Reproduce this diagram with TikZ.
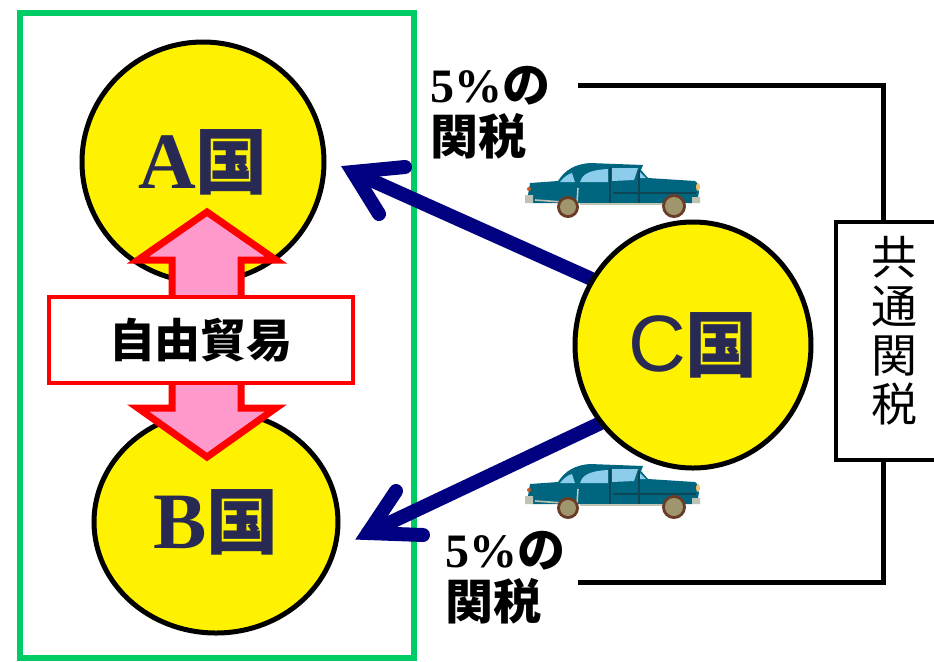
\documentclass[tikz,border=0pt]{standalone}
\usepackage{fontspec}
\setmainfont{Liberation Serif}
\newfontfamily\jpfont{Noto Sans CJK JP}
\newfontfamily\latinsans{Liberation Sans}
\usetikzlibrary{shapes.geometric,backgrounds}

\definecolor{framegreen}{RGB}{0,204,102}
\definecolor{countryink}{RGB}{40,42,84}
\definecolor{tariffnavy}{RGB}{0,0,128}
\definecolor{tradepink}{RGB}{255,153,204}
\definecolor{carbody}{RGB}{0,102,128}
\definecolor{carglass}{RGB}{140,205,235}
\definecolor{cartrim}{RGB}{15,70,85}
\definecolor{carchrome}{RGB}{190,195,180}
\definecolor{tyre}{RGB}{105,60,40}
\definecolor{hubcap}{RGB}{160,150,110}
\definecolor{taillamp}{RGB}{200,90,40}
\definecolor{headlamp}{RGB}{245,190,110}

\tikzset{
  country/.style={ellipse, draw=black, line width=2.5pt, fill=yellow, inner sep=0pt,
    text=countryink, font=\bfseries},
  tariff/.style={draw=tariffnavy, line width=7pt, line cap=round, line join=miter},
  taxnote/.style={align=left, inner sep=0pt, anchor=north west,
    font=\fontsize{24}{26}\selectfont\bfseries},
  tradebox/.style={draw=red, line width=2pt, fill=white, minimum width=152pt,
    minimum height=43pt, font=\jpfont\fontsize{23}{26}\selectfont\bfseries},
  bracket/.style={line width=2.5pt},
  % old saloon car, drawn from its top left corner
  pics/oldcar/.style={code={
    \fill[carbody] (20,33) -- (48,31) .. controls (55,20) and (65,14) .. (80,13) -- (133,15)
      -- (131,20) -- (138,28) -- (185,31) .. controls (189,33) and (190,40) .. (188,47)
      -- (182,53) -- (22,53) -- (18,45) -- cycle;
    \fill[carglass] (50,32) .. controls (54,27) and (58,24) .. (62,23) -- (65,32) -- cycle;
    \fill[carglass] (70,32) .. controls (72,25) and (78,20) .. (98,19) -- (98,32) -- cycle;
    \fill[carglass] (102,18) -- (128,18) -- (124,30) -- (102,31) -- cycle;
    \fill[carglass] (130,22) -- (136,28) -- (129,28) -- cycle;
    \draw[cartrim, line width=0.8pt] (100,17) -- (100,53) (129,20) -- (129,53) (103,43) -- (186,43);
    \draw[carchrome, line width=0.8pt] (25,50) -- (67,53) -- (68,38) (70,54) -- (155,54);
    \fill[carchrome] (15,45) rectangle (23,53) (182,47) rectangle (190,53);
    \fill[taillamp] (19,39) circle (2);
    \fill[headlamp] (188,37) ellipse (2 and 4);
    \fill[tyre] (58,57) circle (11);
    \fill[hubcap] (58,57) circle (8);
    \fill[tyre] (164,56) circle (12);
    \fill[hubcap] (164,56) circle (9);
  }}
}

\begin{document}
\begin{tikzpicture}[x=0.5pt, y=-0.5pt]
\useasboundingbox (0,0) rectangle (934,661);

% countries
\node[country, minimum width=121pt, minimum height=120pt] (A) at (203,162)
  {\fontsize{40}{44}\selectfont A{\jpfont\fontsize{36}{40}\selectfont 国}};
\node[country, minimum width=122pt, minimum height=111pt] (B) at (216,522)
  {\fontsize{40}{44}\selectfont B{\jpfont\fontsize{36}{40}\selectfont 国}};
\node[country, minimum width=118pt, minimum height=123pt] (C) at (693,345)
  {{\latinsans\mdseries\fontsize{40}{44}\selectfont C}{\jpfont\fontsize{36}{40}\selectfont 国}};

% tips of the tariff arrows
\coordinate (tipA) at (353,172);
\coordinate (armA1) at (405,167);
\coordinate (armA2) at (379,214);
\coordinate (tipB) at (368,533);
\coordinate (armB1) at (396,491);
\coordinate (armB2) at (423,535);

\begin{scope}[on background layer]
  \fill[white] (0,0) rectangle (934,661);
  \draw[framegreen, line width=3pt] (20,13) rectangle (414,658);
  \draw[tariff] (C.147) -- (tipA);
  \draw[tariff] (armA1) -- (tipA) -- (armA2);
  \draw[tariff] (C.220) -- (tipB);
  \draw[tariff] (armB1) -- (tipB) -- (armB2);
\end{scope}

% free trade between A and B
\draw[red, line width=3.5pt, fill=tradepink] (207,212) -- (276,260) -- (241,260) -- (241,408)
  -- (276,408) -- (207,457) -- (138,408) -- (172,408) -- (172,260) -- (138,260) -- cycle;
\node[tradebox] (fta) at (201,340) {自由貿易};

% common external tariff
\node[draw, line width=2pt, fill=white, minimum width=57pt, minimum height=119pt] (ctbox) at (893,341) {};
\node[align=center, inner sep=0pt, font=\jpfont\fontsize{23}{24.5}\selectfont] (cttext) at (894,331)
  {共\\通\\関\\税};
\coordinate (brTop) at (578,85);
\coordinate (brBot) at (578,582);
\coordinate (brX) at (883,0);
\draw[bracket] (brTop) -- (brTop -| brX) -- (ctbox.north -| brX);
\draw[bracket] (brBot) -- (brBot -| brX) -- (ctbox.south -| brX);

\node[taxnote] (noteA) at (430,66) {5\%{\jpfont の}\\{\jpfont 関税}};
\node[taxnote] (noteB) at (445,531) {5\%{\jpfont の}\\{\jpfont 関税}};

% cars
\pic (carA) at (510,150) {oldcar};
\pic (carB) at (510,451) {oldcar};
\end{tikzpicture}
\end{document}
